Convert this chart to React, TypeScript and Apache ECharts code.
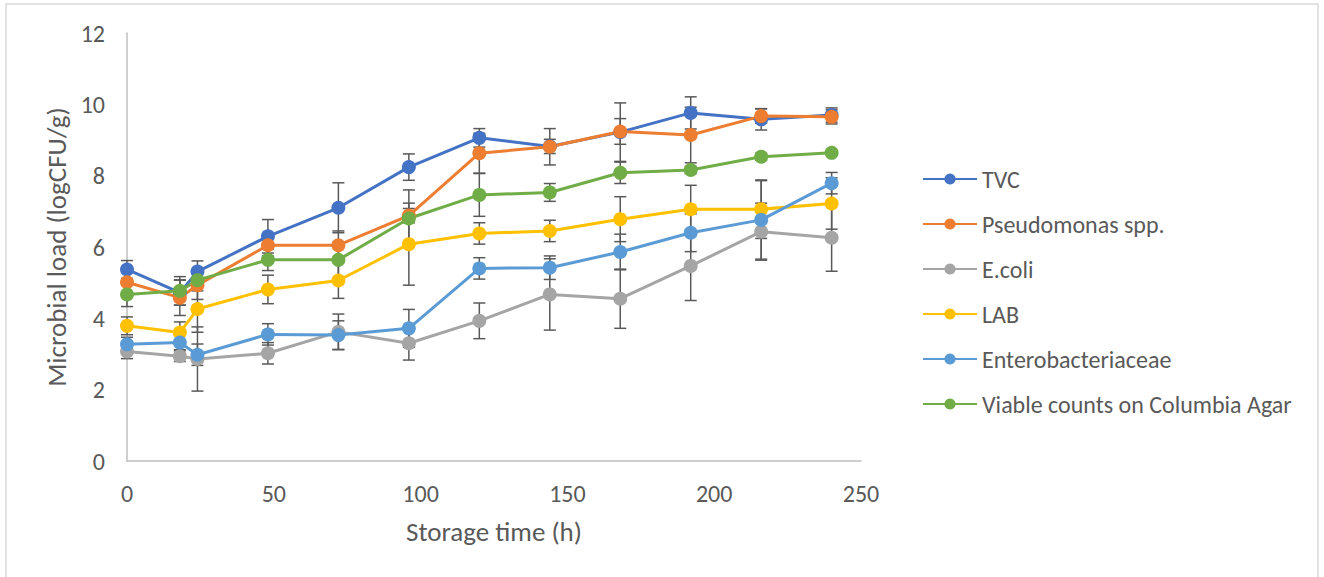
import React, { useEffect, useRef } from "react";
import * as echarts from "echarts";

const hours = [0, 18, 24, 48, 72, 96, 120, 144, 168, 192, 216, 240];

const tvc = [5.37, 4.72, 5.31, 6.3, 7.1, 8.24, 9.06, 8.82, 9.22, 9.76, 9.58, 9.7];
const pseudomonas = [5.01, 4.58, 4.93, 6.05, 6.05, 6.88, 8.63, 8.81, 9.24, 9.14, 9.67, 9.65];
const ecoli = [3.07, 2.94, 2.86, 3.02, 3.62, 3.3, 3.93, 4.67, 4.55, 5.47, 6.43, 6.26];
const lab = [3.79, 3.6, 4.26, 4.81, 5.06, 6.08, 6.38, 6.45, 6.78, 7.06, 7.06, 7.22];
const entero = [3.27, 3.32, 2.98, 3.55, 3.53, 3.72, 5.4, 5.42, 5.86, 6.4, 6.76, 7.79];
const columbia = [4.67, 4.77, 5.07, 5.64, 5.64, 6.8, 7.46, 7.53, 8.08, 8.16, 8.53, 8.64];

const tvcErr = [0.25, 0.35, 0.3, 0.47, 0.7, 0.37, 0.26, 0.2, 0.82, 0.45, 0.3, 0.2];
const pseudomonasErr = [0.3, 0.5, 0.4, 0.3, 0.4, 0.2, 0.56, 0.51, 0.36, 0.78, 0.2, 0.2];
const ecoliErr = [0.2, 0.15, 0.9, 0.3, 0.5, 0.47, 0.5, 1.0, 0.83, 0.97, 0.8, 0.94];
const labErr = [0.25, 0.3, 0.65, 0.4, 0.5, 1.15, 0.3, 0.3, 0.63, 0.67, 0.82, 0.72];
const enteroErr = [0.2, 0.2, 0.3, 0.3, 0.4, 0.53, 0.3, 0.33, 0.5, 0.53, 1.1, 0.3];
const columbiaErr = [0.34, 0.4, 0.3, 0.3, 0.5, 0.8, 0.6, 0.25, 0.3, 0.1, 0.1, 0.05];

const seriesNames = [
  "TVC",
  "Pseudomonas spp.",
  "E.coli",
  "LAB",
  "Enterobacteriaceae",
  "Viable counts on Columbia Agar",
];
const seriesColors = ["#4472C4", "#ED7D31", "#A5A5A5", "#FFC000", "#5B9BD5", "#70AD47"];
const seriesValues = [tvc, pseudomonas, ecoli, lab, entero, columbia];
const seriesErrors = [tvcErr, pseudomonasErr, ecoliErr, labErr, enteroErr, columbiaErr];

const FONT = "Carlito, Calibri, Lato, sans-serif";
const TEXT = "#595959";

export default function App() {
  const ref = useRef<HTMLDivElement>(null);
  useEffect(() => {
    if (!ref.current) return;
    const chart = echarts.init(ref.current, null, { renderer: "svg" });

    const errorSeries = seriesValues.map((vals, i) => ({
      type: "custom",
      name: seriesNames[i] + " err",
      z: 1,
      silent: true,
      data: hours.map((h, j) => [h, vals[j] - seriesErrors[i][j], vals[j] + seriesErrors[i][j]]),
      renderItem: (params: any, api: any) => {
        const x = api.value(0);
        const lo = api.coord([x, api.value(1)]);
        const hi = api.coord([x, api.value(2)]);
        const cw = 6;
        const style = { stroke: "#595959", lineWidth: 1.5 };
        return {
          type: "group",
          children: [
            { type: "line", shape: { x1: lo[0], y1: lo[1], x2: hi[0], y2: hi[1] }, style },
            { type: "line", shape: { x1: lo[0] - cw, y1: lo[1], x2: lo[0] + cw, y2: lo[1] }, style },
            { type: "line", shape: { x1: hi[0] - cw, y1: hi[1], x2: hi[0] + cw, y2: hi[1] }, style },
          ],
        };
      },
    }));

    const lineSeries = seriesValues.map((vals, i) => ({
      type: "line",
      name: seriesNames[i],
      z: 2,
      data: hours.map((h, j) => [h, vals[j]]),
      symbol: "circle",
      symbolSize: 14,
      lineStyle: { color: seriesColors[i], width: 3 },
      itemStyle: { color: seriesColors[i] },
    }));

    chart.setOption({
      animation: false,
      backgroundColor: "#ffffff",
      textStyle: { fontFamily: FONT },
      grid: { left: 127, right: 463, top: 33, bottom: 116, containLabel: false },
      xAxis: {
        type: "value",
        min: 0,
        max: 250,
        interval: 50,
        name: "Storage time (h)",
        nameLocation: "middle",
        nameGap: 57,
        nameTextStyle: { fontSize: 27, color: TEXT, fontFamily: FONT },
        axisLine: { lineStyle: { color: "#bfbfbf", width: 1.5 } },
        axisTick: { show: false },
        axisLabel: { fontSize: 24, color: TEXT, margin: 20, fontFamily: FONT },
        splitLine: { show: false },
      },
      yAxis: {
        type: "value",
        min: 0,
        max: 12,
        interval: 2,
        name: "Microbial load (logCFU/g)",
        nameLocation: "middle",
        nameGap: 57,
        nameTextStyle: { fontSize: 27, color: TEXT, fontFamily: FONT },
        axisLine: { show: true, lineStyle: { color: "#bfbfbf", width: 1.5 } },
        axisTick: { show: false },
        axisLabel: { fontSize: 24, color: TEXT, margin: 22, fontFamily: FONT },
        splitLine: { show: false },
      },
      legend: {
        orient: "vertical",
        left: 917,
        top: 162,
        itemWidth: 54,
        itemHeight: 14,
        itemGap: 21,
        textStyle: { fontSize: 24, color: TEXT, lineHeight: 24, fontFamily: FONT },
        data: seriesNames,
      },
      graphic: [
        {
          type: "rect",
          shape: { x: 6, y: 4, width: 1312, height: 590 },
          style: { fill: "none", stroke: "#d9d9d9", lineWidth: 1.5 },
          silent: true,
        },
      ],
      series: [...errorSeries, ...lineSeries],
    });
    return () => chart.dispose();
  }, []);
  return (
    <div
      ref={ref}
      style={{ position: "fixed", left: 0, top: 0, width: 1324, height: 577 }}
    />
  );
}
